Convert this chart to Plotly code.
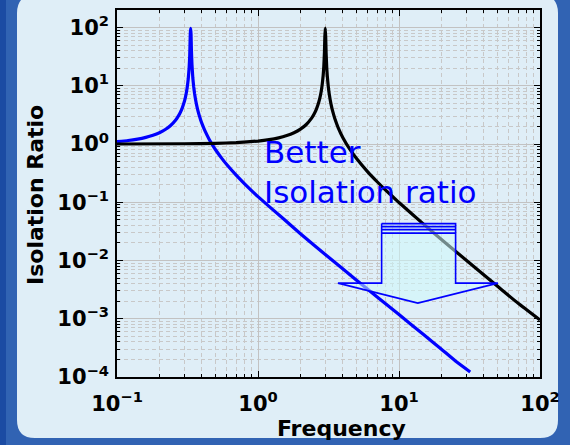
import plotly.graph_objects as go

# ---- data ----
blue_freq = [0.1, 0.12, 0.14, 0.16, 0.18, 0.2, 0.22, 0.24, 0.26, 0.27, 0.28, 0.29, 0.3,
             0.305, 0.31, 0.315, 0.32, 0.325, 0.328, 0.331, 0.333, 0.335, 0.337, 0.34,
             0.345, 0.35, 0.355, 0.36, 0.37, 0.38, 0.39, 0.4, 0.42, 0.45, 0.48, 0.5,
             0.55, 0.6, 0.7, 0.8, 0.9, 1.0, 1.5, 2, 3, 5, 7, 10, 15, 20, 25, 32]
blue_ratio = [1.099, 1.149, 1.215, 1.30, 1.413, 1.564, 1.774, 2.081, 2.561, 2.919, 3.412,
              4.138, 5.305, 6.20, 7.49, 9.50, 13.05, 21.0, 33.4, 78, 97, 78, 41.5, 23.6,
              13.6, 9.56, 7.33, 5.93, 4.27, 3.31, 2.69, 2.259, 1.693, 1.211, 0.928, 0.797,
              0.579, 0.445, 0.2926, 0.2096, 0.1586, 0.1247, 0.053, 0.0288, 0.0127, 0.0046,
              0.00236, 0.00118, 0.00053, 0.0003, 0.00019, 0.000122]

black_freq = [0.1, 0.3, 0.5, 0.7, 1.0, 1.2, 1.4, 1.6, 1.8, 2.0, 2.2, 2.4, 2.5, 2.6, 2.7,
              2.75, 2.8, 2.85, 2.9, 2.93, 2.96, 2.98, 3.0, 3.02, 3.04, 3.07, 3.1, 3.15,
              3.2, 3.3, 3.4, 3.5, 3.7, 4, 4.5, 5, 6, 7, 8, 10, 15, 20, 30, 50, 70, 100]
black_ratio = [1.001, 1.01, 1.028, 1.058, 1.125, 1.19, 1.278, 1.397, 1.5625, 1.8, 2.163,
               2.778, 3.27, 4.018, 5.26, 6.26, 7.76, 10.26, 15.25, 21.7, 37.7, 70, 98, 70,
               37.3, 21.2, 14.8, 9.76, 7.26, 4.76, 3.516, 2.77, 1.919, 1.286, 0.8, 0.5625,
               0.333, 0.225, 0.1636, 0.0989, 0.0417, 0.023, 0.0101, 0.00361, 0.00184,
               0.00095]

x_tick_vals = [0.1, 1, 10, 100]
x_tick_text = ["10<sup>−1</sup>", "10<sup>0</sup>", "10<sup>1</sup>", "10<sup>2</sup>"]
y_tick_vals = [1e-4, 1e-3, 1e-2, 1e-1, 1, 10, 100]
y_tick_text = ["10<sup>−4</sup>", "10<sup>−3</sup>", "10<sup>−2</sup>", "10<sup>−1</sup>",
               "10<sup>0</sup>", "10<sup>1</sup>", "10<sup>2</sup>"]

# block arrow annotation outline (frequency, ratio)
arrow_x = [7.53, 7.53, 3.69, 13.6, 50.3, 25.2, 25.2, 7.53]
arrow_y = [0.0430, 0.00409, 0.00409, 0.00186, 0.00409, 0.00409, 0.0430, 0.0430]
arrow_band_y = [0.0381, 0.0339, 0.0295]

annotation_text = "Better<br>Isolation ratio"
x_title = "Frequency"
y_title = "Isolation Ratio"

FONT = "DejaVu Sans"
PANEL = "#dfeef7"

fig = go.Figure()

fig.add_trace(go.Scatter(x=blue_freq, y=blue_ratio, mode="lines",
                         line=dict(color="#0000ff", width=3.2, shape="spline", smoothing=0.4),
                         showlegend=False))
fig.add_trace(go.Scatter(x=black_freq, y=black_ratio, mode="lines",
                         line=dict(color="#000000", width=3.2, shape="spline", smoothing=0.4),
                         showlegend=False))

fig.add_trace(go.Scatter(x=arrow_x, y=arrow_y, mode="lines", fill="toself",
                         fillcolor="rgba(205,250,252,0.55)",
                         line=dict(color="#0000ff", width=1.6), showlegend=False))
band_x, band_y = [], []
for v in arrow_band_y:
    band_x += [arrow_x[0], arrow_x[-2], None]
    band_y += [v, v, None]
fig.add_trace(go.Scatter(x=band_x, y=band_y, mode="lines",
                         line=dict(color="#0000ff", width=1.6), showlegend=False))

# geometry helpers (pixel -> paper)
L, R, T, B = 117, 540, 10, 377
W, H = R - L, B - T
def px(x):
    return (x - L) / W
def py(y):
    return (B - y) / H

# panel with rounded corners
x0, x1, y0, y1 = px(17), px(558), py(438), py(-5)
rx, ry = 18 / W, 18 / H
path = (f"M {x0+rx},{y1} L {x1-rx},{y1} Q {x1},{y1} {x1},{y1-ry} "
        f"L {x1},{y0+ry} Q {x1},{y0} {x1-rx},{y0} L {x0+rx},{y0} "
        f"Q {x0},{y0} {x0},{y0+ry} L {x0},{y1-ry} Q {x0},{y1} {x0+rx},{y1} Z")
shapes = [
    dict(type="rect", xref="paper", yref="paper", x0=px(0), x1=px(6), y0=py(445), y1=py(0),
         fillcolor="#1b4ba3", line=dict(width=0), layer="below"),
    dict(type="path", path=path, xref="paper", yref="paper", fillcolor=PANEL,
         line=dict(width=0), layer="below"),
]

axis_common = dict(
    type="log", tickmode="array", automargin=False,
    ticks="inside", ticklen=6, tickwidth=1, tickcolor="black",
    showline=True, linecolor="black", linewidth=1.5, mirror="ticks",
    showgrid=True, gridcolor="#c2c2c2", gridwidth=1, zeroline=False,
    tickfont=dict(family=FONT, size=21, color="black", weight="bold"),
    minor=dict(ticks="inside", ticklen=3, tickcolor="black", dtick="D1",
               showgrid=True, gridcolor="#c8c8c8", gridwidth=1, griddash="4px,3px"),
)

fig.update_layout(
    width=570, height=445, autosize=False,
    margin=dict(l=L, r=570 - R, t=T, b=445 - B),
    paper_bgcolor="#3163b3", plot_bgcolor=PANEL,
    xaxis=dict(range=[-1, 2], tickvals=x_tick_vals, ticktext=x_tick_text,
               ticklabelstandoff=7, **axis_common),
    yaxis=dict(range=[-4, 2.301], tickvals=y_tick_vals, ticktext=y_tick_text,
               ticklabelstandoff=2, **axis_common),
    shapes=shapes,
    annotations=[
        dict(text=annotation_text, xref="paper", yref="paper", x=px(262), y=py(132),
             xanchor="left", yanchor="top", align="left", showarrow=False,
             font=dict(family=FONT, size=31, color="#0000ff")),
        dict(text=x_title, xref="paper", yref="paper", x=px(341), y=py(428),
             xanchor="center", yanchor="middle", showarrow=False,
             font=dict(family=FONT, size=22, color="black", weight="bold")),
        dict(text=y_title, xref="paper", yref="paper", x=px(35), y=py(195),
             xanchor="center", yanchor="middle", showarrow=False, textangle=-90,
             font=dict(family=FONT, size=22, color="black", weight="bold")),
    ],
)

fig.write_html("out.html", config={"displayModeBar": False},
               post_script="document.body.style.margin='0';document.body.style.overflow='hidden';")
